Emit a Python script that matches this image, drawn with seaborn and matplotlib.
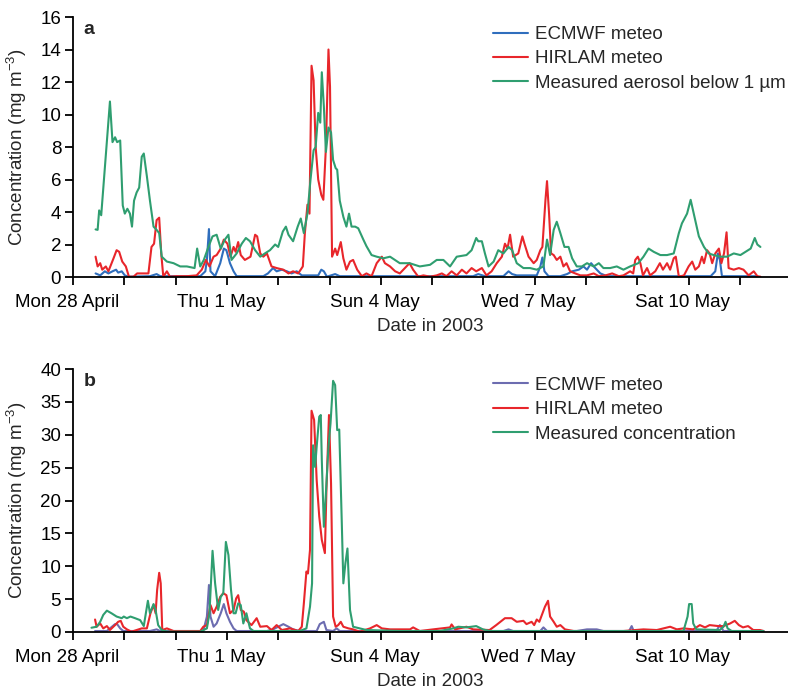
import matplotlib
matplotlib.use("Agg")
import matplotlib.pyplot as plt
import matplotlib.transforms as mtransforms
import seaborn as sns
import pandas as pd

# ---------------- data (days since Mon 28 April 2003 00:00) ----------------
# Panel a
a_ecmwf_t = [0.44, 0.53, 0.62, 0.69, 0.77, 0.84, 0.88, 0.95, 1.01, 1.08, 1.50, 1.63, 1.70, 2.48, 2.58, 2.61, 2.65, 2.68, 2.77, 2.87, 2.94, 2.99, 3.06, 3.13, 3.19, 3.71, 3.80, 3.90, 3.97, 4.07, 4.17, 4.26, 4.36, 4.46, 4.78, 4.84, 4.89, 4.95, 5.11, 5.20,
             7.80, 7.90, 8.03, 8.39, 8.49, 8.56, 8.65, 9.04, 9.11, 9.15, 9.19, 9.27, 9.50, 9.63, 9.73, 9.86, 9.95, 10.02, 10.10, 10.18, 10.28, 10.41, 12.43, 12.52, 12.57, 12.61, 12.65, 13.34]
a_ecmwf_v = [0.22, 0.10, 0.35, 0.22, 0.35, 0.45, 0.27, 0.35, 0.10, 0.02, 0.05, 0.18, 0.05, 0.05, 0.35, 1.05, 2.95, 0.35, 0.05, 0.85, 1.75, 1.65, 0.85, 0.35, 0.05, 0.05, 0.22, 0.55, 0.35, 0.45, 0.35, 0.22, 0.35, 0.10, 0.10, 0.45, 0.35, 0.02, 0.18, 0.05,
             0.05, 0.18, 0.05, 0.05, 0.35, 0.18, 0.10, 0.10, 0.65, 1.20, 0.35, 0.05, 0.05, 0.18, 0.35, 0.45, 0.65, 0.45, 0.85, 0.55, 0.22, 0.05, 0.05, 0.35, 1.45, 1.05, 0.05, 0.05]

a_hirlam_t = [0.44, 0.48, 0.53, 0.57, 0.64, 0.69, 0.79, 0.85, 0.90, 0.96, 1.03, 1.09, 1.18, 1.25, 1.37, 1.47, 1.53, 1.58, 1.63, 1.68, 1.72, 1.76, 1.83, 1.89, 2.02, 2.22, 2.41, 2.51, 2.59, 2.66, 2.74, 2.80, 2.88, 2.94, 3.01, 3.07, 3.13, 3.17, 3.22, 3.27, 3.35, 3.46, 3.55, 3.59, 3.65, 3.71, 3.78, 3.87, 3.97, 4.10, 4.20, 4.29, 4.39, 4.48, 4.52, 4.57, 4.61, 4.65, 4.69, 4.73, 4.78, 4.84, 4.88, 4.93, 4.98, 5.01, 5.05, 5.11, 5.15, 5.22, 5.27, 5.33, 5.40, 5.46, 5.54, 5.63, 5.72, 5.82, 5.92, 6.02, 6.08,
              6.18, 6.28, 6.37, 6.47, 6.56, 6.63, 6.73, 6.83, 6.96, 7.09, 7.19, 7.28, 7.38, 7.48, 7.58, 7.67, 7.77, 7.86, 7.97, 8.06, 8.16, 8.26, 8.36, 8.42, 8.47, 8.52, 8.58, 8.68, 8.76, 8.80, 8.88, 8.98, 9.04, 9.11, 9.15, 9.21, 9.24, 9.28, 9.32, 9.37, 9.43, 9.50, 9.56, 9.62, 9.69, 9.79, 9.89, 10.02, 10.15, 10.25, 10.38, 10.51, 10.64, 10.73, 10.86, 10.92, 10.96, 11.01, 11.06, 11.11, 11.19, 11.25, 11.35, 11.44, 11.50, 11.58, 11.64, 11.71, 11.75, 11.81, 11.91, 12.00, 12.07, 12.13, 12.20, 12.26, 12.30, 12.36, 12.41, 12.46, 12.52, 12.59, 12.64, 12.69, 12.74, 12.78, 12.88, 12.98, 13.07, 13.17, 13.27, 13.34, 13.40]
a_hirlam_v = [1.25, 0.65, 0.85, 0.45, 0.65, 0.35, 1.15, 1.65, 1.55, 0.95, 0.65, 0.02, 0.02, 0.22, 0.22, 0.22, 1.85, 2.05, 3.50, 3.65, 1.45, 0.02, 0.35, 0.02, 0.05, 0.05, 0.10, 0.45, 1.05, 0.65, 1.25, 1.35, 1.75, 2.30, 2.05, 1.25, 1.85, 1.55, 2.15, 1.35, 1.05, 1.25, 2.60, 2.50, 1.45, 1.25, 1.45, 0.65, 0.55, 0.45, 0.22, 0.35, 0.22, 0.65, 2.70, 4.45, 3.90, 13.0, 12.1, 8.0, 6.0, 5.05, 4.75, 8.0, 14.0, 11.7, 1.25, 1.75, 1.35, 2.15, 1.15, 0.45, 0.95, 1.05, 0.45, 0.05, 0.22, 0.05, 0.85, 1.25, 0.85,
              0.65, 0.35, 0.22, 0.55, 0.85, 0.45, 0.02, 0.10, 0.02, 0.10, 0.22, 0.05, 0.35, 0.10, 0.45, 0.22, 0.55, 0.35, 0.55, 0.10, 0.35, 0.85, 1.25, 2.05, 1.75, 2.60, 1.25, 1.45, 2.50, 2.05, 1.25, 0.85, 1.05, 1.65, 1.85, 4.75, 5.90, 3.90, 1.45, 1.35, 1.05, 1.25, 0.65, 0.85, 0.35, 0.22, 0.10, 0.10, 0.22, 0.05, 0.10, 0.22, 0.05, 0.10, 0.35, 0.22, 1.05, 1.25, 0.85, 0.10, 0.55, 0.10, 0.35, 0.85, 0.45, 0.85, 0.45, 1.15, 1.25, 0.02, 0.10, 0.65, 0.95, 0.45, 0.65, 1.25, 0.85, 1.65, 1.45, 0.85, 1.45, 1.75, 0.85, 1.45, 2.75, 0.55, 0.45, 0.55, 0.45, 0.10, 0.35, 0.05, 0.02]

a_meas_t = [0.44, 0.48, 0.51, 0.55, 0.72, 0.77, 0.82, 0.86, 0.92, 0.97, 1.01, 1.06, 1.11, 1.15, 1.19, 1.24, 1.29, 1.34, 1.38, 1.44, 1.50, 1.57, 1.63, 1.68, 1.73, 1.83, 1.96, 2.09, 2.22, 2.37, 2.42, 2.48, 2.55, 2.64, 2.72, 2.80, 2.88, 2.96, 3.03, 3.09, 3.19, 3.29, 3.37, 3.45, 3.55, 3.65, 3.74, 3.84, 3.94, 4.00, 4.09, 4.15, 4.20, 4.29, 4.38, 4.44, 4.50, 4.57, 4.63, 4.69, 4.73, 4.78, 4.82, 4.85, 4.89, 4.93, 4.98, 5.03, 5.07, 5.12, 5.15, 5.20, 5.27, 5.33, 5.38, 5.43, 5.50, 5.56, 5.66, 5.72, 5.82, 5.92, 6.05,
            6.18, 6.37, 6.56, 6.76, 6.96, 7.09, 7.22, 7.35, 7.48, 7.67, 7.77, 7.86, 7.90, 7.97, 8.03, 8.10, 8.20, 8.29, 8.39, 8.49, 8.56, 8.65, 8.78, 8.91, 9.04, 9.17, 9.24, 9.30, 9.37, 9.43, 9.50, 9.58, 9.66, 9.73, 9.82, 9.92, 10.02, 10.15, 10.25, 10.34, 10.47, 10.60, 10.73, 10.86, 11.02, 11.12, 11.22, 11.32, 11.45, 11.58, 11.71, 11.81, 11.87, 11.97, 12.04, 12.10, 12.20, 12.30, 12.39, 12.49, 12.62, 12.75, 12.88, 13.01, 13.11, 13.21, 13.29, 13.34, 13.40]
a_meas_v = [2.93, 2.90, 4.10, 3.80, 10.8, 8.30, 8.60, 8.30, 8.40, 4.40, 3.90, 4.20, 3.90, 3.10, 4.70, 5.20, 5.50, 7.40, 7.60, 6.20, 4.70, 3.10, 2.90, 2.70, 1.25, 0.95, 0.85, 0.65, 0.65, 0.55, 1.75, 0.65, 1.05, 1.85, 2.50, 2.60, 1.75, 2.30, 2.60, 1.05, 1.45, 2.05, 2.40, 2.20, 1.65, 1.25, 1.45, 1.65, 2.00, 1.85, 2.80, 3.10, 2.60, 2.20, 3.10, 3.60, 2.70, 3.90, 6.00, 7.80, 8.00, 10.1, 9.50, 12.6, 10.5, 7.70, 9.20, 8.90, 7.20, 6.70, 6.60, 4.70, 3.70, 3.10, 3.90, 3.10, 3.10, 3.00, 2.30, 1.90, 1.35, 1.25, 1.15,
            1.25, 0.85, 0.85, 0.65, 0.75, 1.05, 1.05, 0.65, 1.25, 1.35, 1.65, 2.40, 2.20, 2.20, 1.45, 0.65, 0.95, 1.65, 1.45, 1.85, 1.65, 0.85, 0.55, 0.55, 0.45, 0.65, 2.30, 1.35, 2.90, 3.40, 2.70, 1.85, 1.85, 1.15, 0.65, 0.65, 0.85, 0.65, 0.85, 0.55, 0.55, 0.65, 0.45, 0.65, 0.85, 1.25, 1.75, 1.55, 1.35, 1.35, 1.45, 2.70, 3.30, 3.90, 4.75, 3.90, 2.50, 1.85, 1.45, 1.35, 1.25, 1.25, 1.45, 1.35, 1.55, 1.75, 2.40, 2.00, 1.85]

# Panel b
b_ecmwf_t = [0.43, 0.66, 0.72, 0.82, 0.86, 0.92, 0.98, 1.50, 1.63, 1.70, 2.54, 2.61, 2.65, 2.68, 2.74, 2.80, 2.88, 2.94, 2.99, 3.06, 3.13, 3.19, 3.78, 3.90, 4.10, 4.20, 4.29, 4.42, 4.75, 4.81, 4.89, 4.94, 5.07, 5.14, 5.20,
             8.39, 8.49, 8.58, 9.11, 9.17, 9.24, 9.82, 10.02, 10.21, 10.34, 10.84, 10.89, 10.93, 12.54, 12.61, 12.68, 13.46]
b_ecmwf_v = [0.15, 0.15, 0.55, 1.20, 1.20, 0.55, 0.15, 0.15, 0.40, 0.15, 0.15, 2.35, 7.15, 2.35, 0.80, 1.30, 2.85, 4.25, 2.85, 1.55, 0.55, 0.15, 0.15, 0.40, 1.20, 0.80, 0.40, 0.15, 0.15, 1.20, 1.55, 0.30, 0.15, 0.55, 0.15,
             0.15, 0.40, 0.15, 0.15, 0.70, 0.15, 0.15, 0.40, 0.40, 0.15, 0.15, 0.90, 0.15, 0.15, 1.05, 0.15, 0.15]

b_hirlam_t = [0.43, 0.46, 0.53, 0.59, 0.66, 0.72, 0.82, 0.88, 0.93, 0.98, 1.05, 1.14, 1.24, 1.34, 1.44, 1.51, 1.57, 1.61, 1.64, 1.68, 1.71, 1.74, 1.83, 1.96, 2.48, 2.54, 2.61, 2.68, 2.74, 2.80, 2.87, 2.93, 2.99, 3.06, 3.13, 3.18, 3.22, 3.27, 3.33, 3.38, 3.48, 3.58, 3.65, 3.78, 3.87, 3.97, 4.07, 4.23, 4.39, 4.46, 4.50, 4.55, 4.58, 4.62, 4.65, 4.70, 4.75, 4.80, 4.85, 4.91, 4.94, 4.99, 5.03, 5.07, 5.12, 5.17, 5.22, 5.27, 5.37, 5.46, 5.59, 5.79, 5.92, 6.02,
              6.18, 6.57, 6.63, 6.76, 7.02, 7.35, 7.38, 7.45, 7.67, 7.80, 8.12, 8.25, 8.42, 8.55, 8.65, 8.78, 8.84, 8.94, 8.99, 9.04, 9.09, 9.20, 9.26, 9.30, 9.37, 9.43, 9.50, 9.59, 9.76, 10.73, 11.12, 11.38, 11.64, 11.77, 11.90, 12.09, 12.22, 12.32, 12.41, 12.58, 12.68, 12.81, 12.90, 12.98, 13.06, 13.16, 13.26, 13.39, 13.46]
b_hirlam_v = [1.90, 0.80, 1.30, 0.55, 0.90, 0.30, 1.05, 1.55, 1.70, 0.80, 0.40, 0.05, 0.30, 0.55, 0.55, 2.85, 4.10, 2.85, 6.40, 9.00, 7.40, 0.30, 0.55, 0.15, 0.15, 0.80, 1.05, 4.10, 2.85, 3.85, 5.35, 5.90, 5.60, 2.85, 3.35, 5.10, 5.60, 3.35, 3.10, 1.80, 1.05, 2.10, 0.80, 0.90, 0.30, 1.05, 0.30, 0.55, 0.15, 0.80, 4.35, 9.20, 8.90, 12.5, 33.65, 32.25, 23.1, 17.55, 14.0, 12.0, 21.6, 33.0, 22.6, 2.35, 0.80, 1.05, 1.55, 0.80, 0.55, 0.40, 0.05, 0.55, 1.05, 0.55,
              0.40, 0.40, 0.70, 0.15, 0.40, 0.70, 1.15, 0.40, 0.80, 0.40, 0.30, 1.05, 2.10, 2.10, 1.55, 1.70, 1.20, 1.55, 1.05, 1.90, 1.55, 3.85, 4.75, 2.35, 1.55, 0.80, 1.05, 0.40, 0.15, 0.15, 0.40, 0.30, 0.80, 0.40, 0.55, 0.40, 1.05, 0.70, 1.05, 0.90, 0.90, 1.30, 1.70, 1.05, 0.70, 0.90, 0.30, 0.30, 0.15]

b_meas_t = [0.36, 0.46, 0.53, 0.59, 0.66, 0.75, 0.85, 0.95, 0.99, 1.05, 1.12, 1.21, 1.31, 1.38, 1.42, 1.46, 1.50, 1.57, 1.61, 1.66, 1.73, 1.83, 2.48, 2.61, 2.66, 2.72, 2.77, 2.83, 2.88, 2.93, 2.98, 3.03, 3.08, 3.13, 3.17, 3.22, 3.27, 3.32, 3.38, 3.45, 3.52, 4.42, 4.55, 4.62, 4.66, 4.68, 4.72, 4.75, 4.80, 4.83, 4.85, 4.89, 4.93, 4.98, 5.02, 5.07, 5.11, 5.15, 5.19, 5.24, 5.27, 5.31, 5.35, 5.40, 5.46, 5.59, 5.72, 6.37,
            7.15, 7.41, 7.51, 7.67, 7.86, 7.99, 8.12, 11.90, 11.98, 12.01, 12.06, 12.09, 12.15, 12.61, 12.68, 12.72, 12.76, 12.84, 13.46]
b_meas_v = [0.65, 0.80, 1.55, 2.60, 3.25, 2.85, 2.35, 2.10, 2.35, 2.10, 2.35, 2.10, 1.80, 0.90, 2.85, 4.75, 2.85, 4.25, 3.35, 1.05, 0.30, 0.05, 0.05, 0.55, 2.85, 12.35, 7.40, 3.35, 5.35, 5.90, 13.7, 11.7, 6.40, 2.85, 2.85, 4.35, 4.10, 1.30, 2.85, 0.55, 0.15, 0.15, 0.55, 3.85, 7.40, 28.4, 25.1, 28.2, 32.75, 33.0, 26.15, 16.0, 21.1, 28.2, 31.75, 38.2, 37.55, 30.7, 30.8, 16.5, 7.40, 10.45, 12.7, 3.35, 0.80, 0.55, 0.30, 0.15,
            0.15, 0.55, 0.80, 0.70, 0.90, 0.40, 0.15, 0.15, 2.35, 4.25, 4.25, 1.30, 0.40, 0.30, 0.80, 1.55, 0.55, 0.15, 0.15]

day_ticks = list(range(0, 14))
day_labels = ["Mon 28 April", "", "", "Thu 1 May", "", "", "Sun 4 May", "", "", "Wed 7 May", "", "", "Sat 10 May", ""]

labels_a = ["ECMWF meteo", "HIRLAM meteo", "Measured aerosol below 1 \u00b5m"]
labels_b = ["ECMWF meteo", "HIRLAM meteo", "Measured concentration"]

# ---------------- styling ----------------
sns.set_style("ticks")
plt.rcParams["font.family"] = ["Liberation Sans", "DejaVu Sans"]
plt.rcParams["mathtext.fontset"] = "custom"
plt.rcParams["mathtext.rm"] = "Liberation Sans"
plt.rcParams["mathtext.it"] = "Liberation Sans:italic"

C_BLUE = "#2f6ebd"
C_PURPLE = "#6c6cb0"
C_RED = "#e8262b"
C_GREEN = "#2f9e70"
LW = 1.5
FS = 13.5

fig = plt.figure(figsize=(7.88, 6.91), dpi=100)
W, H = 788, 691
x0 = 73
px_per_day = 51.3
ax_w = (W - x0) / W
xmax = (W - x0) / px_per_day

ax_a = fig.add_axes([x0 / W, 1 - 277 / H, ax_w, (277 - 17) / H])
ax_b = fig.add_axes([x0 / W, 1 - 632 / H, ax_w, (632 - 369) / H])

shift = mtransforms.ScaledTranslation(-6 / 100, 0, fig.dpi_scale_trans)


def draw(ax, series, ymax, ystep, legend_top, letter):
    for t, v, c, lab in series:
        df = pd.DataFrame({"t": t, "v": v})
        sns.lineplot(data=df, x="t", y="v", ax=ax, color=c, lw=LW, label=lab,
                     estimator=None, sort=False)
    ax.set_xlim(0, xmax)
    ax.set_ylim(0, ymax)
    ax.set_yticks(list(range(0, ymax + 1, ystep)))
    ax.set_xticks(day_ticks)
    ax.set_xticklabels(day_labels)
    ax.tick_params(axis="both", labelsize=FS, direction="out", length=5.5, width=1.3, colors="black")
    ax.tick_params(axis="x", pad=7)
    ax.tick_params(axis="y", pad=3)
    for lbl in ax.get_xticklabels():
        lbl.set_transform(lbl.get_transform() + shift)
    for s in ["top", "right"]:
        ax.spines[s].set_visible(False)
    for s in ["left", "bottom"]:
        ax.spines[s].set_linewidth(1.3)
        ax.spines[s].set_color("black")
    ax.set_xlabel("Date in 2003", fontsize=FS, labelpad=5)
    ax.set_ylabel("Concentration (mg m$^{-3}$)", fontsize=FS, labelpad=8)
    ax.text(0.015, 0.985, letter, transform=ax.transAxes, fontsize=FS + 0.5,
            fontweight="bold", va="top", ha="left")
    ax.legend(loc="upper left", bbox_to_anchor=((493 - x0) / (W - x0), legend_top),
              frameon=False, fontsize=FS, handlelength=1.85, handletextpad=0.38,
              labelspacing=0.38, borderpad=0, borderaxespad=0)


draw(ax_a, [(a_ecmwf_t, a_ecmwf_v, C_BLUE, labels_a[0]),
            (a_hirlam_t, a_hirlam_v, C_RED, labels_a[1]),
            (a_meas_t, a_meas_v, C_GREEN, labels_a[2])], 16, 2, 0.965, "a")
draw(ax_b, [(b_ecmwf_t, b_ecmwf_v, C_PURPLE, labels_b[0]),
            (b_hirlam_t, b_hirlam_v, C_RED, labels_b[1]),
            (b_meas_t, b_meas_v, C_GREEN, labels_b[2])], 40, 5, 0.97, "b")

fig.savefig("out.png", dpi=100)
